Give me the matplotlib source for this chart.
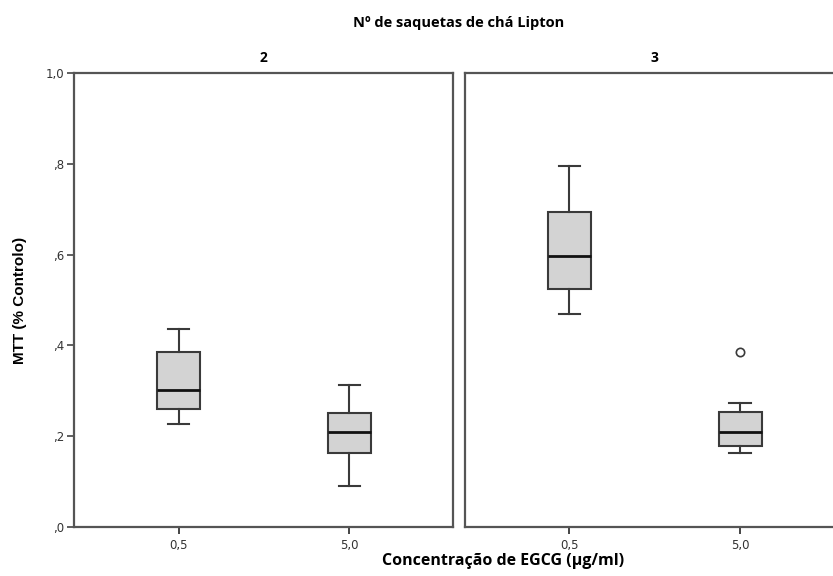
import matplotlib
matplotlib.use("Agg")
import matplotlib.pyplot as plt

# ---- data ----
panels = ["2", "3"]
categories = ["0,5", "5,0"]
whisker_low = [[0.226, 0.089], [0.470, 0.163]]
q1 = [[0.260, 0.163], [0.524, 0.178]]
median = [[0.301, 0.208], [0.597, 0.208]]
q3 = [[0.385, 0.251], [0.693, 0.253]]
whisker_high = [[0.437, 0.312], [0.796, 0.272]]
outliers = [[[], []], [[], [0.385]]]
y_ticks = [0.0, 0.2, 0.4, 0.6, 0.8, 1.0]
y_ticklabels = [",0", ",2", ",4", ",6", ",8", "1,0"]

W, H = 833, 576
fig = plt.figure(figsize=(W / 100, H / 100), dpi=100)

def px_axes(x0, x1, ytop, ybot):
    return [x0 / W, 1 - ybot / H, (x1 - x0) / W, (ybot - ytop) / H]

ax_rects = [px_axes(74, 453, 73.3, 526.7), px_axes(464.7, 843.7, 73.3, 526.7)]
edge = "#3a3a3a"

for p, name in enumerate(panels):
    ax = fig.add_axes(ax_rects[p])
    stats = []
    for i, c in enumerate(categories):
        stats.append(dict(label=c, med=median[p][i], q1=q1[p][i], q3=q3[p][i],
                          whislo=whisker_low[p][i], whishi=whisker_high[p][i],
                          fliers=outliers[p][i]))
    ax.bxp(stats, positions=list(range(len(categories))), widths=0.252,
           patch_artist=True, showfliers=True,
           boxprops=dict(facecolor="#d3d3d3", edgecolor=edge, linewidth=1.5),
           medianprops=dict(color="#111111", linewidth=2.0),
           whiskerprops=dict(color=edge, linewidth=1.5),
           capprops=dict(color=edge, linewidth=1.5),
           capwidths=0.127,
           flierprops=dict(marker="o", markerfacecolor="white", markeredgecolor=edge,
                           markersize=6, markeredgewidth=1.2))
    ax.set_xlim(-0.613, 1.607)
    ax.set_ylim(0, 1.0)
    for s in ax.spines.values():
        s.set_color("#555555")
        s.set_linewidth(1.6)
    ax.set_xticks(range(len(categories)))
    ax.set_xticklabels(categories, fontsize=8.5, color="#333333", family="DejaVu Sans")
    ax.tick_params(axis="x", direction="out", length=5, width=1.4, color="#444444", pad=4)
    if p == 0:
        ax.set_yticks(y_ticks)
        ax.set_yticklabels(y_ticklabels, fontsize=8.5, color="#333333", family="DejaVu Sans")
        ax.tick_params(axis="y", direction="out", length=5, width=1.2, color="#444444", pad=2)
    else:
        ax.set_yticks([])
    ax.set_title(name, fontsize=10, fontweight="bold", family="Open Sans", pad=8)

fig.text(459 / W, 1 - 23 / H, "Nº de saquetas de chá Lipton", ha="center", va="center",
         fontsize=10.5, fontweight="bold", family="Open Sans")
fig.text(503 / W, 1 - 561 / H, "Concentração de EGCG (µg/ml)", ha="center", va="center",
         fontsize=11.5, fontweight="bold", family="Open Sans")
fig.text(20 / W, 1 - 300 / H, "MTT (% Controlo)", ha="center", va="center", rotation=90,
         fontsize=11, fontweight="bold", family="Liberation Sans")

fig.savefig("out.png", dpi=100, facecolor="white")
